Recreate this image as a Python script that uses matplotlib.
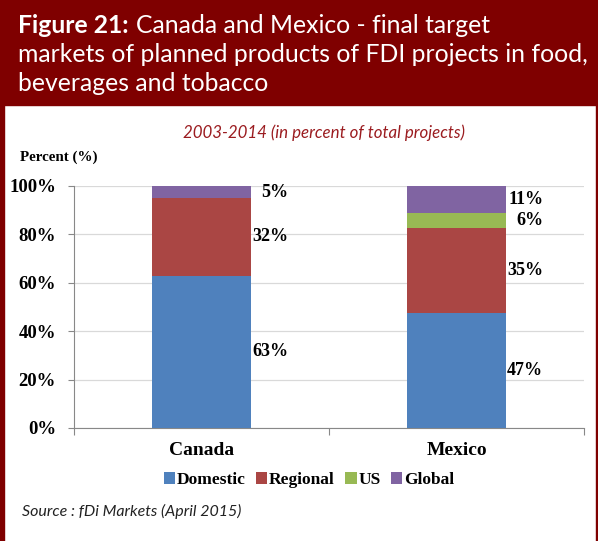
import matplotlib
matplotlib.use('Agg')
import matplotlib.pyplot as plt
import numpy as np

countries = ['Canada', 'Mexico']
series = ['Domestic', 'Regional', 'US', 'Global']
domestic = [63, 47]
regional = [32, 35]
us = [0, 6]
global_ = [5, 11]
colors = ['#4F81BD', '#AA4644', '#98B954', '#8064A2']

W, H = 598, 541
fig = plt.figure(figsize=(W / 100, H / 100), dpi=100)

# header band and side borders
dark_red = '#7F0000'
fig.patches.append(plt.Rectangle((0, 1 - 105 / H), 1, 105 / H, transform=fig.transFigure,
                                 color=dark_red, zorder=0))
fig.patches.append(plt.Rectangle((0, 0), 4 / W, 1, transform=fig.transFigure, color=dark_red, zorder=0))
fig.patches.append(plt.Rectangle((1 - 2 / W, 0), 2 / W, 1, transform=fig.transFigure, color=dark_red, zorder=0))

sans = 'Lato'
serif = 'Liberation Serif'

# title, first words bold
t1 = fig.text(18 / W, 1 - 33 / H, 'Figure 21:', color='white', fontsize=17.8, fontweight='bold',
              family=sans, va='baseline')
fig.canvas.draw()
bb = t1.get_window_extent()
fig.text(bb.x1 / W + 7 / W, 1 - 33 / H, 'Canada and Mexico - final target', color='white',
         fontsize=17.8, family=sans, va='baseline')
fig.text(18 / W, 1 - 62 / H, 'markets of planned products of FDI projects in food,', color='white',
         fontsize=17.8, family=sans, va='baseline')
fig.text(18 / W, 1 - 91 / H, 'beverages and tobacco', color='white',
         fontsize=17.8, family=sans, va='baseline')

fig.text(324 / W, 1 - 133 / H, '2003-2014 (in percent of total projects)', color='#9B1C20',
         fontsize=12.2, style='italic', family=sans, ha='center', va='center')
fig.text(20 / W, 1 - 157 / H, 'Percent (%)', fontsize=10.8, fontweight='bold', family=serif,
         va='center')
fig.text(22 / W, 1 - 511 / H, 'Source : fDi Markets (April 2015)', fontsize=11.5, style='italic',
         family=sans, color='#222222', va='center')

ax = fig.add_axes([74 / W, 1 - 428 / H, 510 / W, 242 / H])

data = np.array([domestic, regional, us, global_], dtype=float)
shares = data / data.sum(axis=0) * 100
x = np.arange(len(countries))
width = 0.39
bottom = np.zeros(len(countries))
for i, name in enumerate(series):
    ax.bar(x, shares[i], width, bottom=bottom, color=colors[i], label=name, zorder=3)
    for j in range(len(countries)):
        if data[i, j] > 0:
            ax.text(x[j] + width / 2 + 0.145, bottom[j] + shares[i, j] / 2, f'{int(data[i, j])}%',
                    ha='right', va='center', fontsize=13, fontweight='bold', family=serif)
    bottom += shares[i]

ax.set_xlim(-0.5, 1.5)
ax.set_ylim(0, 100)
ax.set_yticks(np.arange(0, 101, 20))
ax.set_yticklabels([f'{v}%' for v in range(0, 101, 20)], fontsize=13.5, fontweight='bold', family=serif)
ax.tick_params(axis='y', length=4, width=0.8, color='#888888', pad=9)
ax.set_xticks(x)
ax.set_xticklabels(countries, fontsize=14, fontweight='bold', family=serif)
ax.tick_params(axis='x', length=0, pad=10)
ax.set_xticks([-0.5, 0.5, 1.5], minor=True)
ax.tick_params(axis='x', which='minor', length=5, width=0.8, color='#888888')
ax.grid(axis='y', color='#D9D9D9', linewidth=0.9, zorder=0)
for s in ['top', 'right']:
    ax.spines[s].set_visible(False)
for s in ['left', 'bottom']:
    ax.spines[s].set_color('#888888')
    ax.spines[s].set_linewidth(0.8)

fig.legend(loc='center', bbox_to_anchor=(309 / W, 1 - 480 / H), ncol=4, frameon=False,
           handlelength=0.65, handleheight=0.65, handletextpad=0.1, columnspacing=0.6,
           prop={'family': serif, 'weight': 'bold', 'size': 12.5})

fig.savefig('out.png', dpi=100)
